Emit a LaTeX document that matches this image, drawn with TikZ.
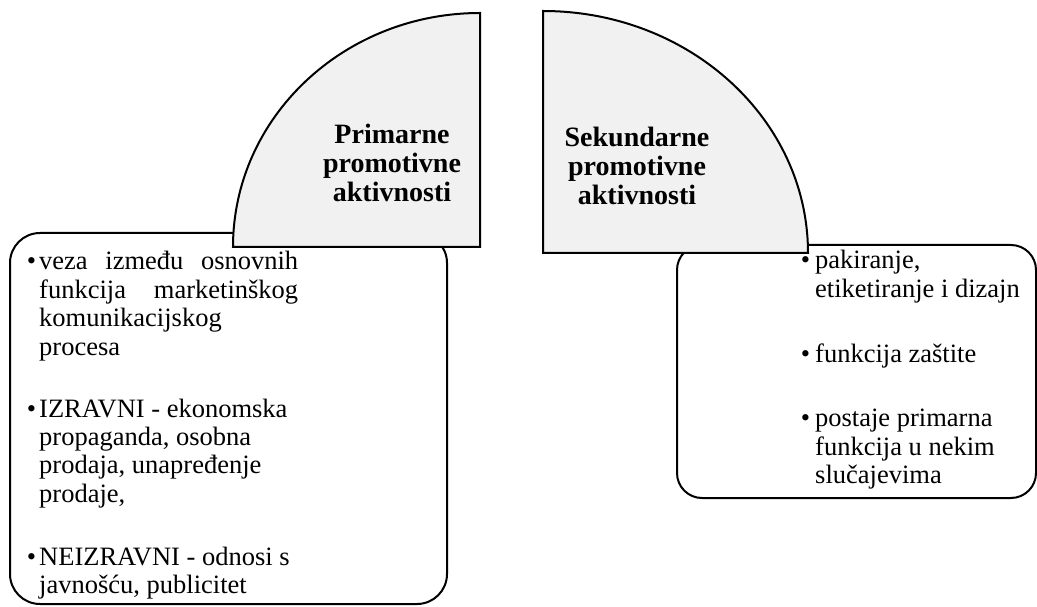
\documentclass[tikz,border=0pt]{standalone}
\usepackage{fontspec}
\setmainfont{Liberation Serif}
\definecolor{quartfill}{HTML}{F1F1F1}
\newcommand{\itemlines}[1]{\begin{tabular}[t]{@{}l@{}}#1\end{tabular}}
\newcommand{\headlines}[1]{\begin{tabular}[t]{@{}c@{}}#1\end{tabular}}
\tikzset{
  box/.style={line width=2pt, rounded corners=#1},
  quart/.style={line width=2pt, fill=quartfill},
  item/.style={anchor=base west, inner sep=0pt, font=\fontsize{26.5}{28.5}\selectfont},
  head/.style={anchor=base, inner sep=0pt, font=\fontsize{28}{29}\selectfont\bfseries},
}
\begin{document}
\begin{tikzpicture}[x=1pt,y=1pt]
      \useasboundingbox (0,0) rectangle (1037,606);
      % Rounded boxes
      \draw[box=30pt] (10,2) rectangle (447,373);
      \draw[box=25pt] (677,108) rectangle (1036,361);
      % Quarter discs
      \draw[quart] (480,359) -- (233,359) arc[start angle=180, end angle=90, x radius=247, y radius=234] -- cycle;
      \draw[quart] (543,353) -- (808,353) arc[start angle=0, end angle=90, x radius=265, y radius=242] -- cycle;
      % Headings
      \node[head] (prim) at (392,462) {\headlines{Primarne\\promotivne\\aktivnosti}};
      \node[head] (sek) at (637,459) {\headlines{Sekundarne\\promotivne\\aktivnosti}};
      % Left items
      \node[item] (p1) at (39,336) {\itemlines{\llap{\textbullet\hspace{3pt}}\makebox[259pt][s]{veza između osnovnih}\\
        \makebox[259pt][s]{funkcija marketinškog}\\komunikacijskog\\procesa}};
      \node[item] (p2) at (39,189) {\itemlines{\llap{\textbullet\hspace{3pt}}IZRAVNI - ekonomska\\propaganda, osobna\\prodaja, unapređenje\\prodaje,}};
      \node[item] (p3) at (39,41) {\itemlines{\llap{\textbullet\hspace{3pt}}NEIZRAVNI - odnosi s\\javnošću, publicitet}};
      % Right items
      \node[item] (s1) at (815,337) {\itemlines{\llap{\textbullet\hspace{5pt}}pakiranje,\\etiketiranje i dizajn}};
      \node[item] (s2) at (815,243) {\itemlines{\llap{\textbullet\hspace{5pt}}funkcija zaštite}};
      \node[item] (s3) at (815,179) {\itemlines{\llap{\textbullet\hspace{5pt}}postaje primarna\\funkcija u nekim\\slučajevima}};
\end{tikzpicture}
\end{document}
